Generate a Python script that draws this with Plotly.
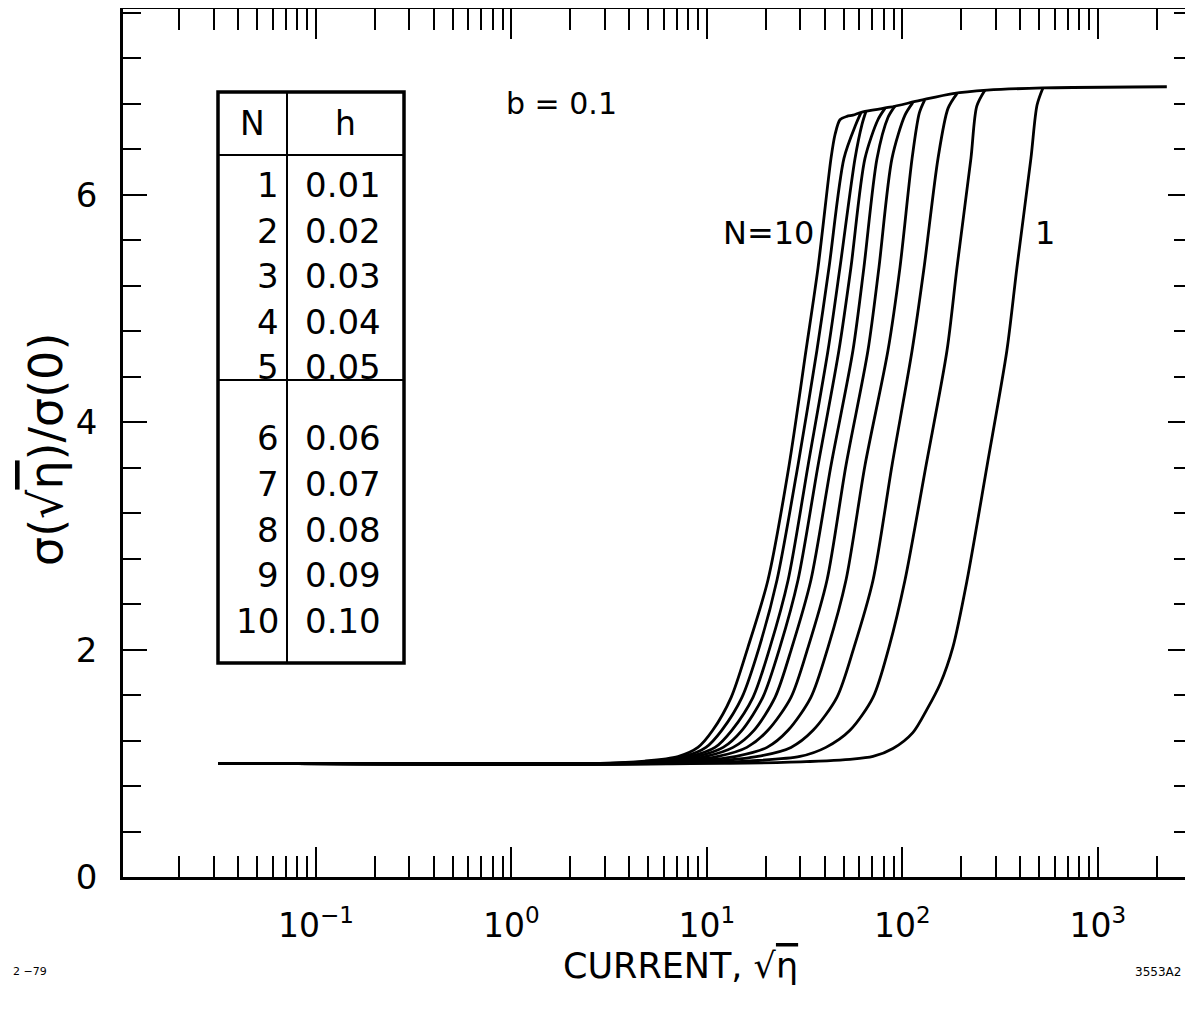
import plotly.graph_objects as go

# ---------------- data ----------------
x_n10 = [0.0316, 2.84, 4.82, 7.11, 8.99, 10.7, 13.3, 16.2, 20.5, 26.3, 32.1, 37.0, 43.1, 45.2, 47.9, 52.0, 55.8, 62.8, 86.3, 123, 181, 271, 523, 2250]
y_n10 = [1.0, 1.0, 1.02, 1.06, 1.14, 1.29, 1.58, 2.02, 2.61, 3.62, 4.63, 5.36, 6.32, 6.53, 6.66, 6.69, 6.70, 6.73, 6.77, 6.83, 6.89, 6.92, 6.94, 6.95]

x_n9 = [0.0316, 3.19, 5.23, 7.63, 9.88, 11.9, 15.1, 18.5, 22.8, 29.2, 36.5, 42.1, 50.2, 57.8, 61.3]
y_n9 = [1.0, 1.0, 1.02, 1.06, 1.14, 1.29, 1.58, 2.02, 2.61, 3.62, 4.63, 5.36, 6.32, 6.62, 6.72]

x_n8 = [0.0316, 3.59, 5.75, 8.18, 11.0, 13.4, 17.2, 21.0, 26.0, 32.9, 41.6, 47.9, 57.2, 62.1, 65.1]
y_n8 = [1.0, 1.0, 1.02, 1.06, 1.14, 1.29, 1.58, 2.02, 2.61, 3.62, 4.63, 5.36, 6.32, 6.62, 6.735]

x_n7 = [0.0316, 4.04, 6.24, 8.89, 12.1, 15.1, 19.3, 23.6, 29.2, 37.0, 47.3, 54.5, 64.3, 74.9, 81.4]
y_n7 = [1.0, 1.0, 1.02, 1.06, 1.14, 1.29, 1.58, 2.02, 2.61, 3.62, 4.63, 5.36, 6.32, 6.66, 6.76]

x_n6 = [0.0316, 4.54, 6.94, 9.88, 13.6, 17.4, 22.3, 27.2, 34.0, 43.1, 55.8, 63.5, 74.1, 84.3, 91.5]
y_n6 = [1.0, 1.0, 1.02, 1.06, 1.14, 1.29, 1.58, 2.02, 2.61, 3.62, 4.63, 5.36, 6.32, 6.68, 6.78]

x_n5 = [0.0316, 5.11, 7.90, 11.4, 16.0, 20.5, 26.9, 32.9, 41.1, 51.4, 66.6, 75.8, 88.4, 103, 113]
y_n5 = [1.0, 1.0, 1.02, 1.06, 1.14, 1.29, 1.58, 2.02, 2.61, 3.62, 4.63, 5.36, 6.32, 6.70, 6.81]

x_n4 = [0.0316, 5.75, 9.21, 14.1, 20.3, 26.0, 34.0, 41.6, 51.4, 64.3, 84.3, 97.1, 112, 122, 130]
y_n4 = [1.0, 1.0, 1.02, 1.06, 1.14, 1.29, 1.58, 2.02, 2.61, 3.62, 4.63, 5.36, 6.32, 6.72, 6.835]

x_n3 = [0.0316, 6.86, 11.4, 18.2, 26.9, 34.9, 46.2, 56.5, 70.7, 88.4, 112, 129, 152, 171, 190]
y_n3 = [1.0, 1.0, 1.02, 1.06, 1.14, 1.29, 1.58, 2.02, 2.61, 3.62, 4.63, 5.36, 6.32, 6.76, 6.89]

x_n2 = [0.0316, 9.21, 16.6, 29.9, 40.6, 53.9, 70.7, 85.3, 103, 132, 169, 190, 224, 240, 264]
y_n2 = [1.0, 1.0, 1.02, 1.06, 1.14, 1.29, 1.58, 2.02, 2.61, 3.62, 4.63, 5.36, 6.32, 6.78, 6.92]

x_n1 = [0.0316, 13.1, 26.6, 53.9, 70.7, 89.4, 113, 133, 156, 181, 214, 271, 342, 385, 454, 488, 523]
y_n1 = [1.0, 1.0, 1.01, 1.035, 1.06, 1.13, 1.27, 1.47, 1.70, 2.02, 2.61, 3.62, 4.63, 5.36, 6.32, 6.79, 6.94]

table_N = ["1", "2", "3", "4", "5", "6", "7", "8", "9", "10"]
table_h = ["0.01", "0.02", "0.03", "0.04", "0.05", "0.06", "0.07", "0.08", "0.09", "0.10"]

x_tickvals = [0.1, 1, 10, 100, 1000]
x_ticktext = ["10<sup>−1</sup>", "10<sup>0</sup>", "10<sup>1</sup>", "10<sup>2</sup>", "10<sup>3</sup>"]
x_minor = [0.02, 0.03, 0.04, 0.05, 0.06, 0.07, 0.08, 0.09,
           0.2, 0.3, 0.4, 0.5, 0.6, 0.7, 0.8, 0.9,
           2, 3, 4, 5, 6, 7, 8, 9,
           20, 30, 40, 50, 60, 70, 80, 90,
           200, 300, 400, 500, 600, 700, 800, 900, 2000]
y_tickvals = [0, 2, 4, 6]
y_ticktext = ["0", "2", "4", "6"]

# ---------------- figure ----------------
OFF = 8                      # page body margin
W, H = 1185, 1003
ML, MR, MT, MB = 115, 1, 1, 134
PW, PH = W - ML - MR, H - MT - MB
FONT = "DejaVu Sans"

series = [(x_n10, y_n10), (x_n9, y_n9), (x_n8, y_n8), (x_n7, y_n7), (x_n6, y_n6),
          (x_n5, y_n5), (x_n4, y_n4), (x_n3, y_n3), (x_n2, y_n2), (x_n1, y_n1)]

fig = go.Figure()
for xs, ys in series:
    fig.add_trace(go.Scatter(x=xs, y=ys, mode="lines",
                             line=dict(color="black", width=2.8, shape="spline", smoothing=0.8),
                             hoverinfo="skip", showlegend=False))

def px_x(p):
    return (p - OFF - ML) / PW

def px_y(p):
    return (OFF + MT + PH - p) / PH

shapes = []
tx0, tx1, tdiv = 218, 404, 287
ty0, ty1, thead, tsep = 92, 663, 155, 380
shapes.append(dict(type="rect", xref="paper", yref="paper",
                   x0=px_x(tx0), x1=px_x(tx1), y0=px_y(ty1), y1=px_y(ty0),
                   line=dict(color="black", width=3.5), fillcolor="white", layer="above"))
shapes.append(dict(type="line", xref="paper", yref="paper",
                   x0=px_x(tdiv), x1=px_x(tdiv), y0=px_y(ty1), y1=px_y(ty0),
                   line=dict(color="black", width=2)))
for yy in (thead, tsep):
    shapes.append(dict(type="line", xref="paper", yref="paper",
                       x0=px_x(tx0), x1=px_x(tx1), y0=px_y(yy), y1=px_y(yy),
                       line=dict(color="black", width=1.8)))

def ann(text, px, py, size, xanchor="center", yanchor="middle", **kw):
    return dict(text=text, x=px_x(px), y=px_y(py), xref="paper", yref="paper",
                showarrow=False, xanchor=xanchor, yanchor=yanchor,
                font=dict(family=FONT, size=size, color="black"), **kw)

annotations = []
annotations.append(ann("N", 252, 123, 33))
annotations.append(ann("h", 345, 123, 33))
row_y = [185, 231, 276, 322, 367, 438, 484, 530, 575, 621]
for n, h, ry in zip(table_N, table_h, row_y):
    annotations.append(ann(n, 281, ry, 34, xanchor="right"))
    annotations.append(ann(h, 343, ry, 34))

annotations += [
    ann("b = 0.1", 561, 103, 30),
    ann("N=10", 768, 233, 32),
    ann("1", 1045, 233, 32),
    ann("CURRENT, √<span style='text-decoration:overline'>η</span>", 680, 966, 35),
    ann("σ(√<span style='text-decoration:overline'>η</span>)/σ(0)", 46, 450, 46, textangle=-90),
    ann("2 −79", 30, 971, 11),
    ann("3553A2", 1133, 972, 12, xanchor="left"),
]

fig.update_layout(
    width=W, height=H,
    margin=dict(l=ML, r=MR, t=MT, b=MB, pad=0, autoexpand=False),
    paper_bgcolor="white", plot_bgcolor="white",
    showlegend=False,
    shapes=shapes, annotations=annotations,
    font=dict(family=FONT, color="black"),
)

fig.update_xaxes(
    type="log", range=[-1.987, 3.481],
    showline=True, linewidth=2.8, linecolor="black", mirror="allticks",
    showgrid=False, zeroline=False,
    tickmode="array", tickvals=x_tickvals, ticktext=x_ticktext,
    ticks="inside", ticklen=30, tickwidth=2, tickcolor="black",
    tickfont=dict(family=FONT, size=33, color="black"),
    ticklabelstandoff=17,
    minor=dict(tickmode="array", tickvals=x_minor, ticks="inside", ticklen=21,
               tickwidth=2, tickcolor="black", showgrid=False),
)
fig.update_yaxes(
    range=[0, 7.634],
    showline=True, linewidth=2.8, linecolor="black", mirror="allticks",
    showgrid=False, zeroline=False,
    tickmode="array", tickvals=y_tickvals, ticktext=y_ticktext,
    ticks="inside", ticklen=24, tickwidth=2, tickcolor="black",
    tickfont=dict(family=FONT, size=34, color="black"),
    ticklabelstandoff=16,
    minor=dict(tick0=0, dtick=0.4, ticks="inside", ticklen=18,
               tickwidth=2, tickcolor="black", showgrid=False),
)

fig.write_html("out.html")
